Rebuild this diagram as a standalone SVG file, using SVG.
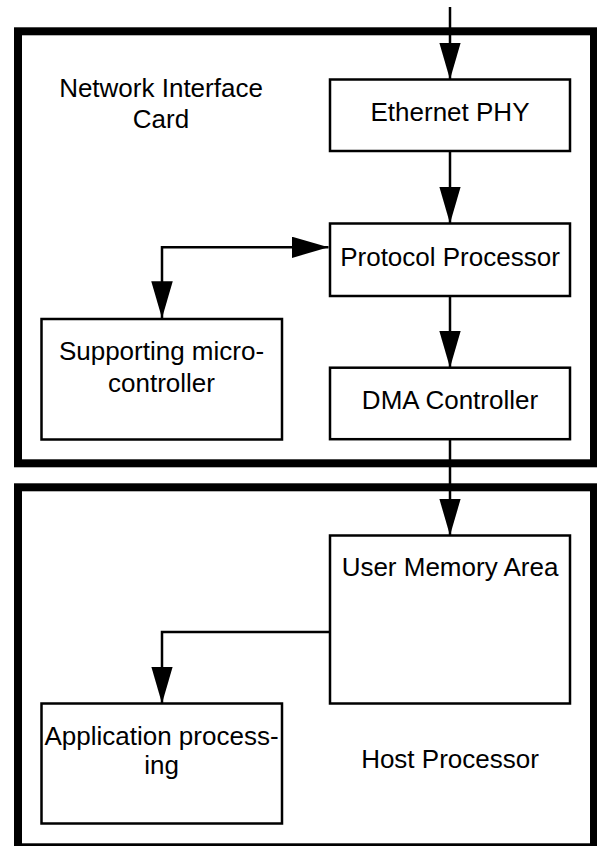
<svg xmlns="http://www.w3.org/2000/svg" width="597" height="846" viewBox="0 0 597 846">
<defs>
<style>
.big{fill:none;stroke:#000;stroke-width:8}
.box{fill:#fff;stroke:#000;stroke-width:2.5}
.con{fill:none;stroke:#000;stroke-width:2.5}
text{font-family:"Liberation Sans",Arial,Helvetica,sans-serif;font-size:26px;fill:#000;text-anchor:middle}
</style>
<marker id="ah" markerUnits="userSpaceOnUse" markerWidth="38" markerHeight="22" refX="37" refY="10.75" orient="auto-start-reverse" viewBox="0 0 38 22">
<path d="M0,0 L37,10.75 L0,21.5 Z" fill="#000"/>
</marker>
</defs>
<rect width="597" height="846" fill="#fff"/>
<g id="nic">
<rect class="big" x="18" y="31.3" width="576" height="432"/>
<text x="161" y="97">Network Interface</text>
<text x="161" y="128">Card</text>
</g>
<g id="host">
<rect class="big" x="18" y="487.3" width="576" height="360"/>
<text x="450" y="768">Host Processor</text>
</g>
<g id="connectors">
<line class="con" x1="450" y1="7" x2="450" y2="79.5" marker-end="url(#ah)"/>
<line class="con" x1="450" y1="151" x2="450" y2="223.5" marker-end="url(#ah)"/>
<path class="con" d="M328.5,247.3 H162 V318.3" marker-start="url(#ah)" marker-end="url(#ah)"/>
<line class="con" x1="450" y1="296" x2="450" y2="367.7" marker-end="url(#ah)"/>
<line class="con" x1="450" y1="439" x2="450" y2="535.5" marker-end="url(#ah)"/>
<path class="con" d="M330,632 H162 V703.5" marker-end="url(#ah)"/>
</g>
<g id="ethernet-phy">
<rect class="box" x="330" y="79.5" width="240" height="71.5"/>
<text x="450" y="121">Ethernet PHY</text>
</g>
<g id="protocol-processor">
<rect class="box" x="330" y="223.5" width="240" height="72.5"/>
<text x="450" y="266">Protocol Processor</text>
</g>
<g id="microcontroller">
<rect class="box" x="41.5" y="319" width="240.5" height="120.5"/>
<text x="161.5" y="360">Supporting micro-</text>
<text x="161.5" y="392">controller</text>
</g>
<g id="dma-controller">
<rect class="box" x="330" y="367.7" width="240" height="71.5"/>
<text x="450" y="409">DMA Controller</text>
</g>
<g id="user-memory">
<rect class="box" x="330" y="535.5" width="240" height="168"/>
<text x="450" y="576">User Memory Area</text>
</g>
<g id="application">
<rect class="box" x="41.5" y="703.5" width="240.5" height="120"/>
<text x="161.5" y="745">Application process-</text>
<text x="161.5" y="774">ing</text>
</g>
</svg>
